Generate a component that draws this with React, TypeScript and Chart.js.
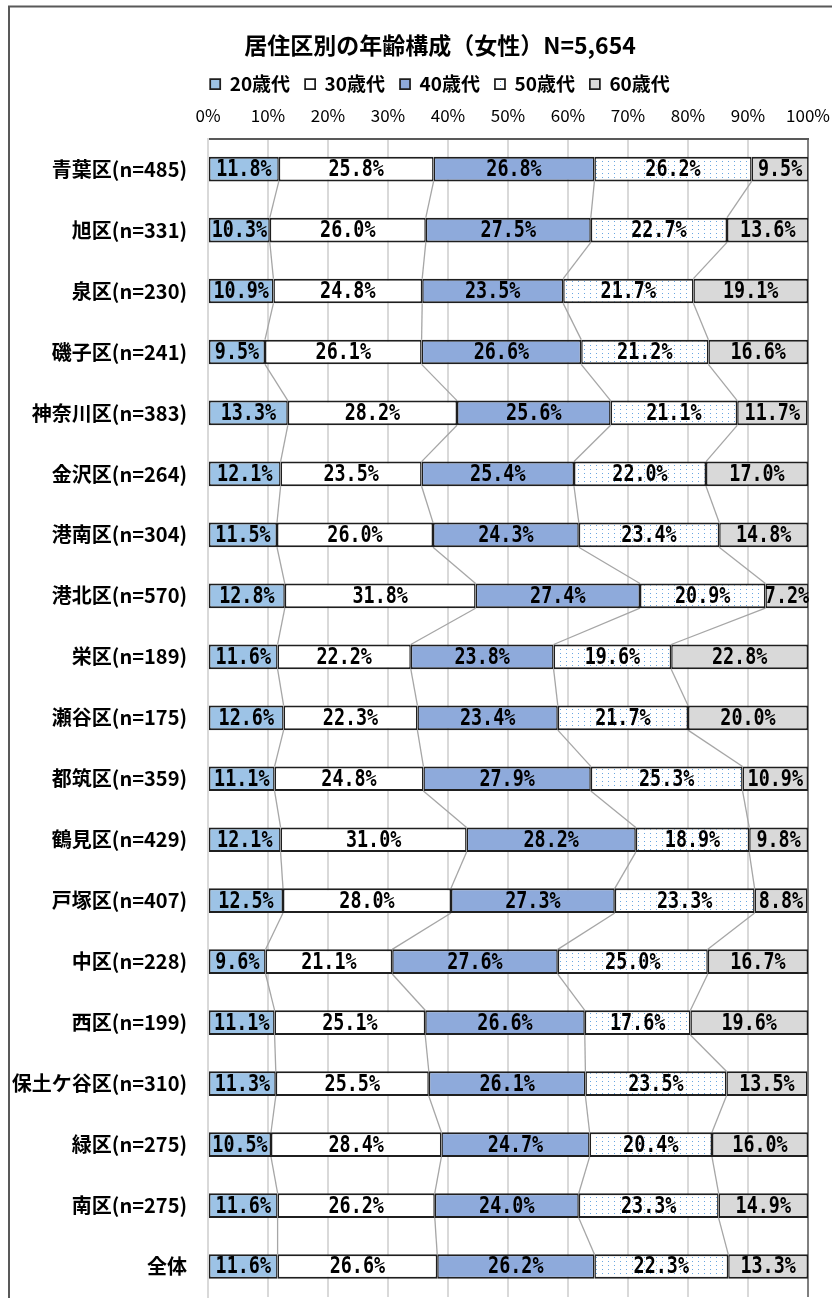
import { useEffect, useRef } from 'react';
import { Chart, registerables } from 'chart.js';

Chart.register(...registerables);

const chartTitle = '居住区別の年齢構成（女性）N=5,654';

const wards = [
  '青葉区(n=485)',
  '旭区(n=331)',
  '泉区(n=230)',
  '磯子区(n=241)',
  '神奈川区(n=383)',
  '金沢区(n=264)',
  '港南区(n=304)',
  '港北区(n=570)',
  '栄区(n=189)',
  '瀬谷区(n=175)',
  '都筑区(n=359)',
  '鶴見区(n=429)',
  '戸塚区(n=407)',
  '中区(n=228)',
  '西区(n=199)',
  '保土ケ谷区(n=310)',
  '緑区(n=275)',
  '南区(n=275)',
  '全体',
];

const ageGroups = ['20歳代', '30歳代', '40歳代', '50歳代', '60歳代'];

const age20s = [11.8, 10.3, 10.9, 9.5, 13.3, 12.1, 11.5, 12.8, 11.6, 12.6, 11.1, 12.1, 12.5, 9.6, 11.1, 11.3, 10.5, 11.6, 11.6];
const age30s = [25.8, 26.0, 24.8, 26.1, 28.2, 23.5, 26.0, 31.8, 22.2, 22.3, 24.8, 31.0, 28.0, 21.1, 25.1, 25.5, 28.4, 26.2, 26.6];
const age40s = [26.8, 27.5, 23.5, 26.6, 25.6, 25.4, 24.3, 27.4, 23.8, 23.4, 27.9, 28.2, 27.3, 27.6, 26.6, 26.1, 24.7, 24.0, 26.2];
const age50s = [26.2, 22.7, 21.7, 21.2, 21.1, 22.0, 23.4, 20.9, 19.6, 21.7, 25.3, 18.9, 23.3, 25.0, 17.6, 23.5, 20.4, 23.3, 22.3];
const age60s = [9.5, 13.6, 19.1, 16.6, 11.7, 17.0, 14.8, 7.2, 22.8, 20.0, 10.9, 9.8, 8.8, 16.7, 19.6, 13.5, 16.0, 14.9, 13.3];

const percentTicks = [0, 10, 20, 30, 40, 50, 60, 70, 80, 90, 100];

const JP_FONT = '"Noto Sans CJK JP", "Noto Sans", sans-serif';
const LABEL_FONT = '"DejaVu Sans Mono", "Liberation Mono", monospace';

// White fill sprinkled with small blue dots (50歳代)
function makeDotPattern(ctx: CanvasRenderingContext2D): CanvasPattern | string {
  const tile = document.createElement('canvas');
  tile.width = 6;
  tile.height = 4;
  const t = tile.getContext('2d');
  if (!t) return '#ffffff';
  t.fillStyle = '#ffffff';
  t.fillRect(0, 0, 6, 4);
  t.fillStyle = '#6aa6e0';
  t.fillRect(2, 1, 1, 1);
  return ctx.createPattern(tile, 'repeat') || '#ffffff';
}

// Page background and outer frame
const framePlugin = {
  id: 'frame',
  beforeDraw(chart: any) {
    const { ctx, width, height } = chart;
    ctx.save();
    ctx.fillStyle = '#ffffff';
    ctx.fillRect(0, 0, width, height);
    ctx.strokeStyle = '#595959';
    ctx.lineWidth = 2;
    ctx.strokeRect(9, 6.5, width - 18, height - 13);
    ctx.restore();
  },
};

// Series lines joining segment boundaries of neighbouring bars
const seriesLinesPlugin = {
  id: 'seriesLines',
  beforeDatasetsDraw(chart: any) {
    const { ctx } = chart;
    ctx.save();
    ctx.strokeStyle = '#a6a6a6';
    ctx.lineWidth = 1.3;
    const n = chart.data.datasets.length;
    for (let d = 0; d < n - 1; d++) {
      const bars = chart.getDatasetMeta(d).data;
      for (let i = 0; i < bars.length - 1; i++) {
        const a = bars[i];
        const b = bars[i + 1];
        ctx.beginPath();
        ctx.moveTo(a.x, a.y + a.height / 2);
        ctx.lineTo(b.x, b.y - b.height / 2);
        ctx.stroke();
      }
    }
    ctx.restore();
  },
};

// Percentage labels centred in each segment
const valueLabelsPlugin = {
  id: 'valueLabels',
  afterDatasetsDraw(chart: any) {
    const { ctx } = chart;
    ctx.save();
    ctx.fillStyle = '#000000';
    ctx.font = `bold 23px ${LABEL_FONT}`;
    ctx.textAlign = 'center';
    ctx.textBaseline = 'middle';
    chart.data.datasets.forEach((ds: any, d: number) => {
      const bars = chart.getDatasetMeta(d).data;
      bars.forEach((bar: any, i: number) => {
        const v = ds.data[i] as number;
        const cx = (bar.x + bar.base) / 2;
        ctx.save();
        ctx.translate(cx, bar.y + 1);
        ctx.scale(0.8, 1);
        ctx.fillText(`${v.toFixed(1)}%`, 0, 0);
        ctx.restore();
      });
    });
    ctx.restore();
  },
};

export default function App() {
  const canvasRef = useRef<HTMLCanvasElement | null>(null);

  useEffect(() => {
    const canvas = canvasRef.current;
    if (!canvas) return;
    const ctx = canvas.getContext('2d');
    if (!ctx) return;
    const dots = makeDotPattern(ctx);

    const fills = ['#9dc3e6', '#ffffff', '#8eaadb', dots, '#d9d9d9'];
    const series = [age20s, age30s, age40s, age50s, age60s];

    const chart = new Chart(ctx, {
      type: 'bar',
      data: {
        labels: wards,
        datasets: ageGroups.map((name, k) => ({
          label: name,
          data: series[k],
          backgroundColor: fills[k] as any,
          borderColor: '#1f1f1f',
          borderWidth: { top: 2, bottom: 2, left: 1.5, right: 1.5 },
          borderSkipped: false,
          categoryPercentage: 1,
          barPercentage: 0.405,
        })),
      },
      options: {
        indexAxis: 'y',
        animation: false,
        responsive: false,
        maintainAspectRatio: false,
        devicePixelRatio: 1,
        layout: { padding: { top: 0, left: 0, right: 0, bottom: 29 } },
        plugins: {
          title: {
            display: true,
            text: chartTitle,
            color: '#000000',
            font: { family: JP_FONT, size: 23, weight: 'bold', lineHeight: 1.2 },
            padding: { top: 31, bottom: 1 },
          },
          legend: {
            display: true,
            position: 'top',
            labels: {
              color: '#000000',
              boxWidth: 10,
              boxHeight: 10,
              padding: 15,
              font: { family: JP_FONT, size: 19, weight: 'bold' },
            },
          },
          tooltip: { enabled: false },
        },
        scales: {
          x: {
            position: 'top',
            stacked: true,
            min: 0,
            max: 100,
            afterBuildTicks: (scale: any) => {
              scale.ticks = percentTicks.map((value) => ({ value }));
            },
            afterFit: (scale: any) => {
              scale.height = 35;
            },
            ticks: {
              color: '#000000',
              padding: 13,
              maxRotation: 0,
              autoSkip: false,
              font: { family: JP_FONT, size: 17 },
              callback: (v: any) => `${v}%`,
            },
            grid: {
              drawTicks: false,
              lineWidth: 2,
              color: (c: any) => (c.tick && c.tick.value === 100 ? '#7f7f7f' : '#d9d9d9'),
            },
            border: { display: true, color: '#595959', width: 2 },
          },
          y: {
            stacked: true,
            afterFit: (scale: any) => {
              scale.width = 208;
            },
            ticks: {
              color: '#000000',
              padding: 21,
              autoSkip: false,
              font: { family: JP_FONT, size: 20, weight: 'bold' },
            },
            grid: { display: false, drawTicks: false },
            border: { display: true, color: '#d9d9d9', width: 2 },
          },
          // Blank right-hand margin of the plot
          yMargin: {
            type: 'category',
            axis: 'y',
            position: 'right',
            display: true,
            afterFit: (scale: any) => {
              scale.width = 72;
            },
            ticks: { display: false },
            grid: { display: false, drawTicks: false },
            border: { display: false },
          },
        },
      },
      plugins: [framePlugin, seriesLinesPlugin, valueLabelsPlugin],
    });

    return () => chart.destroy();
  }, []);

  return (
    <div
      style={{
        position: 'absolute',
        left: 0,
        top: 0,
        width: 832,
        height: 1298,
        overflow: 'hidden',
        background: '#ffffff',
      }}
    >
      <canvas ref={canvasRef} width={880} height={1330} style={{ width: 880, height: 1330, display: 'block' }} />
    </div>
  );
}
